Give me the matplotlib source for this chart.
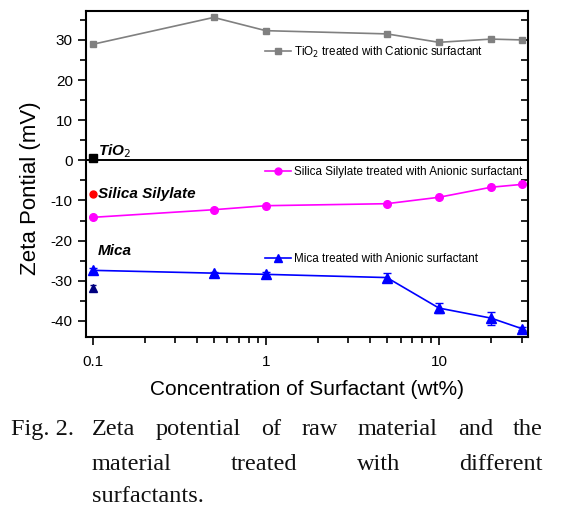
import numpy as np
import matplotlib
matplotlib.use("Agg")
import matplotlib.pyplot as plt
from matplotlib.ticker import FixedLocator, MultipleLocator, NullFormatter
from matplotlib.lines import Line2D

# concentration of surfactant (wt%)
conc = [0.1, 0.5, 1, 5, 10, 20, 30]

# zeta potential (mV) of treated materials
tio2_cationic = [28.9, 35.6, 32.3, 31.5, 29.4, 30.2, 30.0]
silica_anionic = [-14.2, -12.3, -11.3, -10.8, -9.2, -6.7, -6.0]
mica_anionic = [-27.4, -28.1, -28.4, -29.2, -36.8, -39.3, -41.9]
mica_err = [0.5, 0.4, 0.5, 1.1, 1.2, 1.6, 0.4]

# raw materials
raw_conc = 0.1
raw_tio2 = 0.5
raw_silica = -8.3
raw_mica = -31.8
raw_mica_err = 0.8

caption = ["Zeta potential of raw material and the",
           "material treated with different",
           "surfactants."]

plt.rcParams['font.family'] = ['Liberation Sans', 'DejaVu Sans']
plt.rcParams['axes.unicode_minus'] = False

fig = plt.figure(figsize=(5.64, 5.14), dpi=100)
ax = fig.add_axes([0.1525, 0.3444, 0.7837, 0.6342])

ax.axhline(0, color="black", lw=1.4, zorder=1)

ax.plot(conc, tio2_cationic, color="#808080", marker="s", ms=5, lw=1.2)
ax.plot(conc, silica_anionic, color="#ff00ff", marker="o", ms=5.5, lw=1.2)
ax.errorbar(conc, mica_anionic, yerr=mica_err, color="#0000ff", marker="^",
            ms=6.5, lw=1.2, capsize=3, elinewidth=1, capthick=1)

ax.plot([raw_conc], [raw_tio2], color="black", marker="s", ms=5.5, ls="none")
ax.plot([raw_conc], [raw_silica], color="#ff0000", marker="o", ms=5, ls="none")
ax.errorbar([raw_conc], [raw_mica], yerr=[raw_mica_err], color="#000080", marker="^",
            ms=6, ls="none", capsize=2.5, elinewidth=1)

ax.text(0.107, 1.2, r"TiO$_2$", fontsize=11, fontweight="bold", style="italic")
ax.text(0.107, -8.3, "Silica Silylate", fontsize=11, fontweight="bold", style="italic", va="center")
ax.text(0.107, -22.5, "Mica", fontsize=11, fontweight="bold", style="italic", va="center")

legend_kw = dict(loc="center left", frameon=False, fontsize=8.4, handlelength=2.2,
                 handletextpad=0.3, borderpad=0, borderaxespad=0)
h1 = Line2D([], [], color="#808080", marker="s", ms=4.5, lw=1.2)
h2 = Line2D([], [], color="#ff00ff", marker="o", ms=5, lw=1.2)
h3 = Line2D([], [], color="#0000ff", marker="^", ms=6, lw=1.2)
lg1 = ax.legend([h1], [r"TiO$_2$ treated with Cationic surfactant"], bbox_to_anchor=(0.405, 0.874), **legend_kw)
ax.add_artist(lg1)
lg2 = ax.legend([h2], ["Silica Silylate treated with Anionic surfactant"], bbox_to_anchor=(0.405, 0.506), **legend_kw)
ax.add_artist(lg2)
ax.legend([h3], ["Mica treated with Anionic surfactant"], bbox_to_anchor=(0.405, 0.239), **legend_kw)

ax.set_xscale("log")
ax.set_xlim(0.0915, 32.7)
ax.set_ylim(-44, 37.2)
ax.set_xticks([0.1, 1, 10])
ax.set_xticklabels(["0.1", "1", "10"])
ax.xaxis.set_minor_locator(FixedLocator([0.2, 0.3, 0.4, 0.5, 0.6, 0.7, 0.8, 0.9,
                                         2, 3, 4, 5, 6, 7, 8, 9, 20, 30]))
ax.xaxis.set_minor_formatter(NullFormatter())
ax.yaxis.set_major_locator(MultipleLocator(10))
ax.yaxis.set_minor_locator(MultipleLocator(5))

for s in ax.spines.values():
    s.set_linewidth(1.5)

ax.tick_params(axis="both", which="major", labelsize=11, width=1.2, length=6, direction="out")
ax.tick_params(axis="both", which="minor", width=1.2, length=4, direction="out")
ax.tick_params(axis="x", which="major", pad=7)
ax.tick_params(axis="y", which="both", right=True, labelright=False)
ax.tick_params(axis="x", which="both", top=False)

# right side ticks point inward
for t in ax.yaxis.get_major_ticks() + ax.yaxis.get_minor_ticks():
    t.tick2line.set_marker(matplotlib.lines.TICKLEFT)
    t.tick2line.set_markersize(5)

ax.set_xlabel("Concentration of Surfactant (wt%)", fontsize=15, labelpad=8)
ax.set_ylabel("Zeta Pontial (mV)", fontsize=16)
ax.yaxis.set_label_coords(-0.102, 0.457)

# caption, justified like the reference
cap_kw = dict(fontsize=17.5, family=["Liberation Serif", "DejaVu Serif"], color="#111111",
              va="baseline", ha="left")
W, H = 564.0, 514.0
left, right = 92, 543
baselines = [435, 470, 502]

fig.text(11 / W, 1 - baselines[0] / H, "Fig. 2.", **cap_kw)
renderer = fig.canvas.get_renderer()
for i, line in enumerate(caption):
    words = line.split()
    texts = [fig.text(0, 1 - baselines[i] / H, w, **cap_kw) for w in words]
    widths = [t.get_window_extent(renderer).width for t in texts]
    if i < len(caption) - 1:
        gap = (right - left - sum(widths)) / (len(words) - 1)
    else:
        gap = 5
    x = left
    for t, w in zip(texts, widths):
        t.set_x(x / W)
        x += w + gap

fig.savefig("out.png", dpi=100)
